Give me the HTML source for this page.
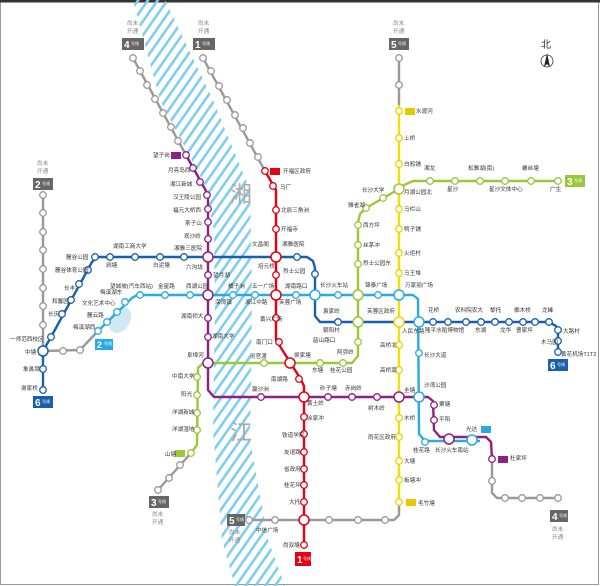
<!DOCTYPE html>
<html><head><meta charset="utf-8"><style>
html,body{margin:0;padding:0;background:#fff}
svg{display:block}
text{font-family:"Liberation Sans","Noto Sans CJK SC",sans-serif;fill:#333;font-size:5.6px}
</style></head><body>
<svg width="600" height="586" viewBox="0 0 600 586" xmlns="http://www.w3.org/2000/svg">
<defs>
<pattern id="h" patternUnits="userSpaceOnUse" width="8" height="8" patternTransform="rotate(-55)">
<rect x="0" y="0" width="8" height="2.6" fill="#7fcdef"/>
</pattern>
</defs>
<rect x="0" y="0" width="600" height="586" fill="#fff"/>
<rect x="0.5" y="1.5" width="598" height="583" fill="none" stroke="#999" stroke-width="1"/>
<rect x="0" y="0" width="600" height="2.5" fill="#333"/>
<polygon points="133,0 160,100 205,185 214,230 215,300 213,430 222,540 235,586 285,586 268,540 250,440 252,300 250,190 213,100 165,0" fill="url(#h)"/>
<text x="230" y="202" style="font-size:22px;fill:#aaa">湘</text>
<text x="230" y="440" style="font-size:22px;fill:#aaa">江</text>
<ellipse cx="120" cy="320" rx="10" ry="14" fill="#cfe8f2" transform="rotate(30 120 320)"/>
<text x="541" y="48" style="font-size:10px;fill:#333">北</text>
<circle cx="547" cy="61" r="6" fill="none" stroke="#333" stroke-width="0.8"/>
<polygon points="547,53 544,67 547,64 550,67" fill="#222"/>
<g fill="none" stroke-linejoin="round" stroke-width="2.4">
<polyline stroke="#999" points="133,58 186,155"/>
<polyline stroke="#999" points="203,58 265,171"/>
<polyline stroke="#999" points="43,195 43,351"/>
<polyline stroke="#999" points="98,331 80,350 44,351"/>
<polyline stroke="#999" points="399,58 399,105"/>
<polyline stroke="#999" points="191,453 158,490"/>
<polyline stroke="#999" points="399,502 399,515 394,520 249,520"/>
<polyline stroke="#999" points="492,459 492,493 497,498 558,498"/>
<polyline stroke="#1a5fac" points="43,390 43,351 51,337 92,262 97,257 307,257 313,261 315,268 315,316 320,322 549,322 556,326 558,332 558,352"/>
<polyline stroke="#29abe2" points="98,331 132,298 137,295 413,295 418,299 419,434 425,441 480,441"/>
<polyline stroke="#8e2083" points="186,155 206,191 208,198 208,390 214,397 428,397 433,401 434,430 440,437 486,437 491,442 492,459"/>
<polyline stroke="#e60012" points="265,171 276,190 276,340 300,378 304,386 304,545"/>
<polyline stroke="#9cc63b" points="558,181 413,181 404,185 399,189 366,208 360,214 358,222 358,356 352,363 203,363 198,368 197,445 191,453"/>
<polyline stroke="#f2e100" points="399,105 399,502"/>
</g>
<g fill="#fff" stroke-width="1.3">
<g stroke="#999">
<circle cx="133" cy="58" r="3.3"/><circle cx="140" cy="71" r="3.3"/><circle cx="147" cy="85" r="3.3"/><circle cx="155" cy="99" r="3.3"/><circle cx="163" cy="113" r="3.3"/><circle cx="171" cy="127" r="3.3"/><circle cx="178" cy="141" r="3.3"/>
<circle cx="203" cy="58" r="3.3"/><circle cx="211" cy="71" r="3.3"/><circle cx="219" cy="86" r="3.3"/><circle cx="227" cy="100" r="3.3"/><circle cx="235" cy="115" r="3.3"/><circle cx="243" cy="128" r="3.3"/><circle cx="250" cy="143" r="3.3"/><circle cx="258" cy="157" r="3.3"/>
<circle cx="43" cy="195" r="3.3"/><circle cx="43" cy="213" r="3.3"/><circle cx="43" cy="232" r="3.3"/><circle cx="43" cy="250" r="3.3"/><circle cx="43" cy="269" r="3.3"/><circle cx="43" cy="288" r="3.3"/><circle cx="43" cy="306" r="3.3"/><circle cx="43" cy="325" r="3.3"/>
<circle cx="63" cy="351" r="3.3"/><circle cx="80" cy="350" r="3.3"/>
<circle cx="399" cy="58" r="3.3"/><circle cx="399" cy="85" r="3.3"/>
<circle cx="180" cy="465" r="3.3"/><circle cx="169" cy="478" r="3.3"/><circle cx="158" cy="490" r="3.3"/>
<circle cx="385" cy="520" r="3.3"/><circle cx="358" cy="520" r="3.3"/><circle cx="329" cy="520" r="3.3"/><circle cx="275" cy="520" r="3.3"/><circle cx="249" cy="520" r="3.3"/>
<circle cx="492" cy="481" r="3.3"/><circle cx="505" cy="498" r="3.3"/><circle cx="522" cy="498" r="3.3"/><circle cx="540" cy="498" r="3.3"/><circle cx="558" cy="498" r="3.3"/>
</g>
<g stroke="#1a5fac">
<circle cx="43" cy="390" r="3.3"/><circle cx="43" cy="369" r="3.3"/><circle cx="51" cy="337" r="3.3"/><circle cx="62" cy="314" r="3.3"/><circle cx="71" cy="300" r="3.3"/><circle cx="79" cy="284" r="3.3"/><circle cx="88" cy="270" r="3.3"/><circle cx="95" cy="257" r="3.3"/>
<circle cx="110" cy="257" r="3.3"/><circle cx="135" cy="257" r="3.3"/><circle cx="160" cy="257" r="3.3"/><circle cx="184" cy="257" r="3.3"/><circle cx="297" cy="257" r="3.3"/><circle cx="315" cy="274" r="3.3"/><circle cx="338" cy="322" r="3.3"/>
<circle cx="433" cy="322" r="3.3"/><circle cx="448" cy="322" r="3.3"/><circle cx="466" cy="322" r="3.3"/><circle cx="481" cy="322" r="3.3"/><circle cx="495" cy="322" r="3.3"/><circle cx="509" cy="322" r="3.3"/><circle cx="523" cy="322" r="3.3"/><circle cx="535" cy="322" r="3.3"/><circle cx="549" cy="322" r="3.3"/>
<circle cx="558" cy="330" r="3.3"/><circle cx="558" cy="341" r="3.3"/><circle cx="558" cy="352" r="3.3"/>
</g>
<g stroke="#29abe2">
<circle cx="98" cy="331" r="3.3"/><circle cx="107" cy="322" r="3.3"/><circle cx="117" cy="312" r="3.3"/><circle cx="125" cy="302" r="3.3"/><circle cx="140" cy="295" r="3.3"/><circle cx="165" cy="295" r="3.3"/><circle cx="190" cy="295" r="3.3"/><circle cx="233" cy="295" r="3.3"/><circle cx="255" cy="295" r="3.3"/><circle cx="296" cy="295" r="3.3"/><circle cx="338" cy="295" r="3.3"/><circle cx="378" cy="295" r="3.3"/>
<circle cx="419" cy="353" r="3.3"/><circle cx="425" cy="442" r="3.3"/>
</g>
<g stroke="#8e2083">
<circle cx="186" cy="155" r="3.3"/><circle cx="193" cy="168" r="3.3"/><circle cx="200" cy="182" r="3.3"/><circle cx="207" cy="195" r="3.3"/><circle cx="208" cy="209" r="3.3"/><circle cx="208" cy="222" r="3.3"/><circle cx="208" cy="239" r="3.3"/><circle cx="208" cy="275" r="3.3"/><circle cx="208" cy="318" r="3.3"/><circle cx="208" cy="337" r="3.3"/>
<circle cx="261" cy="397" r="3.3"/><circle cx="328" cy="397" r="3.3"/><circle cx="352" cy="397" r="3.3"/><circle cx="377" cy="397" r="3.3"/><circle cx="434" cy="405" r="3.3"/><circle cx="434" cy="420" r="3.3"/><circle cx="492" cy="459" r="3.3"/>
</g>
<g stroke="#e60012">
<circle cx="265" cy="171" r="3.3"/><circle cx="273" cy="186" r="3.3"/><circle cx="276" cy="210" r="3.3"/><circle cx="276" cy="229" r="3.3"/><circle cx="276" cy="275" r="3.3"/><circle cx="276" cy="318" r="3.3"/><circle cx="279" cy="342" r="3.3"/><circle cx="299" cy="379" r="3.3"/>
<circle cx="304" cy="417" r="3.3"/><circle cx="304" cy="434" r="3.3"/><circle cx="304" cy="452" r="3.3"/><circle cx="304" cy="469" r="3.3"/><circle cx="304" cy="485" r="3.3"/><circle cx="304" cy="502" r="3.3"/><circle cx="304" cy="545" r="3.3"/>
</g>
<g stroke="#9cc63b">
<circle cx="558" cy="181" r="3.3"/><circle cx="531" cy="181" r="3.3"/><circle cx="505" cy="181" r="3.3"/><circle cx="480" cy="181" r="3.3"/><circle cx="455" cy="181" r="3.3"/><circle cx="430" cy="181" r="3.3"/>
<circle cx="383" cy="198" r="3.3"/><circle cx="366" cy="208" r="3.3"/><circle cx="358" cy="225" r="3.3"/><circle cx="358" cy="245" r="3.3"/><circle cx="358" cy="264" r="3.3"/><circle cx="358" cy="342" r="3.3"/>
<circle cx="343" cy="363" r="3.3"/><circle cx="320" cy="363" r="3.3"/><circle cx="264" cy="363" r="3.3"/>
<circle cx="197" cy="377" r="3.3"/><circle cx="197" cy="395" r="3.3"/><circle cx="197" cy="413" r="3.3"/><circle cx="197" cy="430" r="3.3"/><circle cx="191" cy="453" r="3.3"/>
</g>
<g stroke="#e8d500">
<circle cx="399" cy="111" r="3.3"/><circle cx="399" cy="138" r="3.3"/><circle cx="399" cy="164" r="3.3"/><circle cx="399" cy="209" r="3.3"/><circle cx="399" cy="229" r="3.3"/><circle cx="399" cy="253" r="3.3"/><circle cx="399" cy="273" r="3.3"/><circle cx="399" cy="345" r="3.3"/><circle cx="399" cy="370" r="3.3"/><circle cx="399" cy="418" r="3.3"/><circle cx="399" cy="437" r="3.3"/><circle cx="399" cy="461" r="3.3"/><circle cx="399" cy="480" r="3.3"/><circle cx="399" cy="502" r="3.3"/>
</g>
</g>
<g fill="#fff" stroke-width="1.5">
<circle cx="208" cy="257" r="5" stroke="#8e2083"/><circle cx="276" cy="257" r="5" stroke="#e60012"/>
<circle cx="208" cy="295" r="5" stroke="#8e2083"/><circle cx="276" cy="295" r="5" stroke="#e60012"/>
<circle cx="315" cy="295" r="5" stroke="#29abe2"/><circle cx="358" cy="295" r="5" stroke="#9cc63b"/><circle cx="399" cy="295" r="5" stroke="#29abe2"/>
<circle cx="358" cy="322" r="5" stroke="#9cc63b"/><circle cx="399" cy="322" r="5" stroke="#e8d500"/><circle cx="419" cy="322" r="5" stroke="#29abe2"/>
<circle cx="208" cy="363" r="5" stroke="#8e2083"/><circle cx="290" cy="363" r="5" stroke="#e60012"/>
<circle cx="304" cy="397" r="5" stroke="#e60012"/><circle cx="399" cy="397" r="5" stroke="#8e2083"/><circle cx="419" cy="397" r="5" stroke="#29abe2"/>
<circle cx="399" cy="189" r="5" stroke="#9cc63b"/><circle cx="449" cy="439" r="5" stroke="#8e2083"/><circle cx="472" cy="440" r="5" stroke="#29abe2"/>
<circle cx="304" cy="520" r="5" stroke="#e60012"/><circle cx="43" cy="351" r="5" stroke="#1a5fac"/>
</g>
<g>
<rect x="122" y="38" width="22" height="12" fill="#666"/><text x="124" y="48" style="font-size:10px;fill:#fff;font-weight:bold">4</text><text x="131" y="45" style="font-size:4px;fill:#fff">号线</text>
<rect x="193" y="38" width="22" height="12" fill="#666"/><text x="195" y="48" style="font-size:10px;fill:#fff;font-weight:bold">1</text><text x="202" y="45" style="font-size:4px;fill:#fff">号线</text>
<rect x="33" y="178" width="20" height="12" fill="#666"/><text x="35" y="188" style="font-size:10px;fill:#fff;font-weight:bold">2</text><text x="42" y="185" style="font-size:4px;fill:#fff">号线</text>
<rect x="389" y="38" width="20" height="12" fill="#666"/><text x="391" y="48" style="font-size:10px;fill:#fff;font-weight:bold">5</text><text x="398" y="45" style="font-size:4px;fill:#fff">号线</text>
<rect x="565" y="175" width="20" height="12" fill="#9cc63b"/><text x="567" y="185" style="font-size:10px;fill:#fff;font-weight:bold">3</text><text x="574" y="182" style="font-size:4px;fill:#fff">号线</text>
<rect x="33" y="396" width="20" height="12" fill="#1a5fac"/><text x="35" y="406" style="font-size:10px;fill:#fff;font-weight:bold">6</text><text x="42" y="403" style="font-size:4px;fill:#fff">号线</text>
<rect x="548" y="359" width="20" height="12" fill="#1a5fac"/><text x="550" y="369" style="font-size:10px;fill:#fff;font-weight:bold">6</text><text x="557" y="366" style="font-size:4px;fill:#fff">号线</text>
<rect x="95" y="339" width="18" height="11" fill="#29abe2"/><text x="97" y="348" style="font-size:9px;fill:#fff;font-weight:bold">2</text><text x="104" y="345" style="font-size:4px;fill:#fff">号线</text>
<rect x="149" y="496" width="20" height="12" fill="#666"/><text x="151" y="506" style="font-size:10px;fill:#fff;font-weight:bold">3</text><text x="158" y="503" style="font-size:4px;fill:#fff">号线</text>
<rect x="227" y="514" width="18" height="12" fill="#666"/><text x="229" y="524" style="font-size:10px;fill:#fff;font-weight:bold">5</text><text x="236" y="521" style="font-size:4px;fill:#fff">号线</text>
<rect x="550" y="510" width="18" height="12" fill="#666"/><text x="552" y="520" style="font-size:10px;fill:#fff;font-weight:bold">4</text><text x="559" y="517" style="font-size:4px;fill:#fff">号线</text>
<rect x="295" y="552" width="16" height="14" fill="#e60012"/><text x="297" y="563" style="font-size:10px;fill:#fff;font-weight:bold">1</text><text x="303" y="560" style="font-size:4px;fill:#fff">号线</text>
<rect x="171" y="152" width="10" height="7" fill="#8e2083"/><rect x="270" y="168" width="10" height="7" fill="#e60012"/><rect x="405" y="108" width="10" height="7" fill="#e8c800"/><rect x="175" y="450" width="10" height="7" fill="#9cc63b"/><rect x="406" y="499" width="10" height="7" fill="#e8c800"/><rect x="498" y="456" width="10" height="7" fill="#8e2083"/><rect x="481" y="426" width="10" height="7" fill="#29abe2"/>
</g>
<g>
<text x="127" y="25" style="fill:#888">尚未</text><text x="127" y="33" style="fill:#888">开通</text>
<text x="198" y="25" style="fill:#888">尚未</text><text x="198" y="33" style="fill:#888">开通</text>
<text x="37" y="165" style="fill:#888">尚未</text><text x="37" y="173" style="fill:#888">开通</text>
<text x="393" y="25" style="fill:#888">尚未</text><text x="393" y="33" style="fill:#888">开通</text>
<text x="152" y="516" style="fill:#888">尚未</text><text x="152" y="524" style="fill:#888">开通</text>
<text x="229" y="534" style="fill:#888">尚未</text><text x="229" y="542" style="fill:#888">开通</text>
<text x="552" y="531" style="fill:#888">尚未</text><text x="552" y="539" style="fill:#888">开通</text>
</g>
<g>
<text x="153" y="157">望子岗</text><text x="168" y="172">月亮岛西</text><text x="170" y="186">湘江新城</text><text x="173" y="199">汉王陵公园</text><text x="173" y="212">福元大桥西</text><text x="185" y="225">茶子山</text><text x="174" y="250">湘雅三医院</text><text x="184" y="238">观沙岭</text><text x="186" y="269">六沟垅</text><text x="213" y="277">望月湖</text>
<text x="113" y="248">湖南工商大学</text><text x="106" y="267">涧塘</text><text x="153" y="267">白泥塘</text><text x="66" y="259">麓谷公园</text><text x="55" y="272">麓谷体育公园</text><text x="64" y="290">长丰</text><text x="52" y="303">和馨园</text><text x="48" y="316">长庆</text><text x="10" y="341">一师范西校区</text><text x="25" y="354">中塘</text><text x="23" y="371">象鼻窝</text><text x="21" y="390">谢家桥</text>
<text x="100" y="294">梅溪湖东</text><text x="82" y="305">文化艺术中心</text><text x="87" y="317">麓云路</text><text x="73" y="329">梅溪湖西</text><text x="110" y="288">望城坡(汽车西站)</text><text x="158" y="288">金星路</text><text x="186" y="288">西湖公园</text><text x="215" y="304">溁湾镇</text><text x="245" y="304">湘江中路</text><text x="279" y="304">芙蓉广场</text>
<text x="181" y="318">湖南师大</text><text x="212" y="338">湖南大学</text><text x="187" y="357">阜埠河</text><text x="172" y="378">中南大学</text><text x="181" y="396">阳光</text><text x="172" y="414">洋湖新城</text><text x="172" y="431">洋湖湿地</text><text x="165" y="456">山塘</text>
<text x="283" y="173">开福区政府</text><text x="280" y="189">马厂</text><text x="281" y="212">北辰三角洲</text><text x="281" y="231">开福寺</text><text x="252" y="246">文昌阁</text><text x="282" y="246">湘雅医院</text><text x="258" y="268">培元桥</text><text x="283" y="273">烈士公园</text><text x="252" y="288">五一广场</text><text x="285" y="288">湖南路口</text><text x="228" y="288">橘子洲</text><text x="260" y="321">黄兴广场</text><text x="256" y="344">南门口</text><text x="294" y="357">侯家塘</text><text x="271" y="381">南湖路</text><text x="250" y="358">灵官渡</text><text x="252" y="391">赢沙洲</text>
<text x="307" y="405">黄土岭</text><text x="307" y="420">涂家冲</text><text x="282" y="437">铁道学院</text><text x="284" y="454">友谊路</text><text x="284" y="471">省政府</text><text x="284" y="487">桂花坪</text><text x="289" y="504">大托</text><text x="256" y="532">中信广场</text><text x="283" y="547">尚双塘</text>
<text x="320" y="287">长沙火车站</text><text x="365" y="287">锦泰广场</text><text x="323" y="313">袁家岭</text><text x="323" y="332">朝阳村</text><text x="313" y="342">韶山路口</text><text x="337" y="354">阿弥岭</text><text x="312" y="372">东塘</text><text x="330" y="372">桂花公园</text><text x="320" y="390">砂子塘</text><text x="345" y="390">赤岗岭</text><text x="368" y="410">树木岭</text><text x="367" y="313">芙蓉区政府</text>
<text x="363" y="227">西方坪</text><text x="363" y="247">丝茅冲</text><text x="363" y="265">烈士公园东</text><text x="348" y="207">雅雀湖</text><text x="362" y="192">长沙大学</text>
<text x="416" y="113">水渡河</text><text x="404" y="140">上桥</text><text x="404" y="166">白鸦铺</text><text x="404" y="194">月湖公园北</text><text x="404" y="211">马栏山</text><text x="404" y="231">鸭子铺</text><text x="404" y="255">火炬村</text><text x="404" y="275">马王堆</text><text x="405" y="287">万家丽广场</text><text x="402" y="333">人民东路</text><text x="380" y="347">高桥北</text><text x="380" y="372">高桥南</text><text x="404" y="392">圭塘</text><text x="404" y="420">木桥</text><text x="368" y="439">雨花区政府</text><text x="404" y="463">大塘</text><text x="404" y="482">板塘冲</text><text x="418" y="505">毛竹塘</text>
<text x="424" y="170">湘龙</text><text x="447" y="191">星沙</text><text x="468" y="170">松雅湖(南)</text><text x="489" y="191">星沙文体中心</text><text x="522" y="170">螺丝塘</text><text x="550" y="191">广生</text>
<text x="424" y="387">沙湾公园</text><text x="424" y="357">长沙大道</text><text x="439" y="406">粟塘</text><text x="439" y="421">平阳</text><text x="466" y="431">光达</text><text x="413" y="452">桂花路</text><text x="435" y="452">长沙火车南站</text><text x="510" y="460">杜家坪</text>
<text x="428" y="312">花桥</text><text x="455" y="312">农科院农大</text><text x="490" y="312">黎托</text><text x="514" y="312">榔木桥</text><text x="542" y="312">龙峰</text><text x="425" y="332">隆平水稻博物馆</text><text x="475" y="332">东湖</text><text x="500" y="332">龙华</text><text x="516" y="332">曹家坪</text><text x="563" y="333">大路村</text><text x="541" y="344">木马园</text><text x="561" y="356">黄花机场T1T2</text>
</g>
</svg>
</body></html>
